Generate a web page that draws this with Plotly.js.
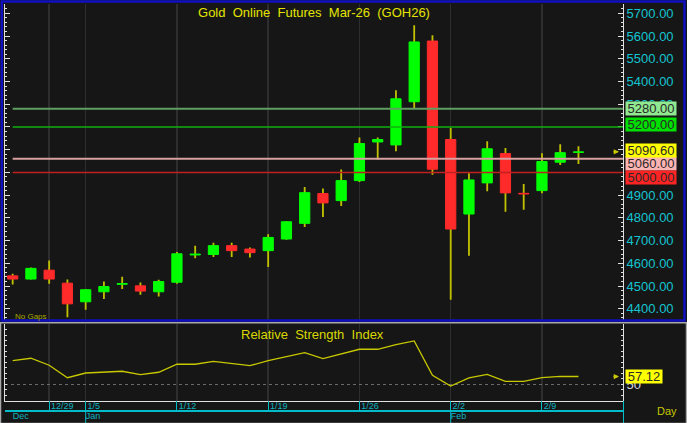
<!DOCTYPE html>
<html><head><meta charset="utf-8">
<script src="https://cdn.plot.ly/plotly-3.0.1.min.js"></script>
<style>html,body{margin:0;padding:0;background:#161616;overflow:hidden}#chart{width:687px;height:423px}</style>
</head><body><div id="chart"></div>
<script>
// ---- data ----
const dates = ['12/24','12/26','12/29','12/30','1/5','1/6','1/7','1/8','1/9','1/12','1/13','1/14','1/15','1/16',
  '1/19','1/20','1/21','1/22','1/23','1/26','1/27','1/28','1/29','1/30','2/2','2/3','2/4','2/5','2/6','2/9','2/10','2/11'];
const open  = [4545,4531,4570,4513,4431,4475,4508,4501,4475,4517,4637,4639,4678,4663,4656,4707,4776,4907,4876,4964,
  5134,5121,5311,5578,5145,4817,4954,5083,4908,4920,5045,5088];
const high  = [4554,4582,4613,4529,4486,4520,4541,4516,4528,4650,4678,4691,4691,4670,4728,4785,4936,4929,5013,5154,
  5154,5362,5647,5603,5196,4996,5137,5108,4949,5084,5124,5115];
const low   = [4507,4529,4510,4363,4396,4443,4487,4462,4454,4510,4623,4628,4628,4626,4584,4704,4760,4804,4852,4958,
  5057,5093,5284,4990,4440,4634,4917,4827,4836,4908,5033,5037];
const close = [4531,4578,4531,4422,4484,4498,4511,4478,4520,4642,4641,4678,4656,4647,4714,4783,4911,4866,4964,5127,
  5145,5324,5574,5014,4751,4967,5104,4910,4905,5048,5087,5090.60];
const rsi   = [71.6,73.8,67.4,56.0,60.3,61.0,61.9,58.8,61.0,68.3,68.3,71.0,68.8,67.0,71.6,75.0,78.9,73.4,78.0,82.0,
  82.0,86.2,89.6,58.2,48.4,55.8,59.1,52.7,52.7,56.0,57.3,57.12];
const weekStarts = ['12/29','1/5','1/12','1/19','1/26','2/2','2/9'];
const monthLabels = ['Dec','Jan','Feb'];
const monthFirstDays = ['12/24','1/5','2/2'];
const priceTicks = [4400,4500,4600,4700,4800,4900,5000,5100,5200,5300,5400,5500,5600,5700];
const priceTicksHidden = [5000,5100,5200];   // covered by the level boxes in the reference
const levels = [5280, 5200, 5060, 5000];
const levelLineColors = ['#5f9f5f','#10b010','#d8a0a0','#c02020'];
const levelBoxColors = ['#90e890','#00e000','#ffb4b4','#ff2424'];
const levelShift = [0, 2, -5, -5];
const titleText = 'Gold\u00a0 Online\u00a0 Futures\u00a0 Mar-26\u00a0 (GOH26)';

// ---- build ----
const FONT = '"Liberation Sans", Arial, sans-serif';
const W = 687, H = 423;
const px = v => v / W, py = v => 1 - v / H;
const idx = dates.map((d, i) => i);
const weekIdx = weekStarts.map(d => dates.indexOf(d));
const monthIdx = monthFirstDays.map(d => dates.indexOf(d));
const xRange = [-0.42, 33.44];
const xDom = [px(5), px(623)];
const up = close.map((c, i) => c >= open[i]);
const bodyCol = up.map(u => u ? '#00ff00' : '#ff2a2a');
const priceRange = [4353, 5741];
const last = close[close.length - 1];
const lastRsi = rsi[rsi.length - 1];
const GRID = '#2e2e2e';
const CYAN = '#00bcc8';

const traces = [
  {type:'bar', x: idx, base: low, y: high.map((h,i)=>h-low[i]), width: 0.1,
   marker:{color:'#c0c000', line:{width:0}}, xaxis:'x', yaxis:'y', hoverinfo:'skip'},
  {type:'bar', x: idx, base: open.map((o,i)=>Math.min(o,close[i])), y: open.map((o,i)=>Math.abs(close[i]-o)), width: 0.56,
   marker:{color: bodyCol, line:{color: bodyCol, width: 1}}, xaxis:'x', yaxis:'y', hoverinfo:'skip'},
  {type:'scatter', mode:'lines', x: idx, y: rsi, xaxis:'x2', yaxis:'y3',
   line:{color:'#c8c800', width:1.3}, hoverinfo:'skip'},
  // invisible carriers so the date strips exist as subplots
  {type:'scatter', mode:'none', x: weekIdx, y: weekIdx.map(() => 0.5), xaxis:'x3', yaxis:'y4', hoverinfo:'skip'},
  {type:'scatter', mode:'none', x: monthIdx, y: monthIdx.map(() => 0.5), xaxis:'x4', yaxis:'y5', hoverinfo:'skip'}
];

const shapes = [];
levels.forEach((lv, i) => shapes.push({type:'line', xref:'x', yref:'y', x0: idx[0], x1: xRange[1], y0: lv, y1: lv,
  line:{color: levelLineColors[i], width: (i===0||i===2)?2:1.5}, layer:'above'}));
monthIdx.slice(1).forEach(m => shapes.push({type:'line', xref:'x4', yref:'paper', x0:m, x1:m, y0:0, y1:py(410),
  line:{color:CYAN, width:1}}));
shapes.push({type:'rect', xref:'paper', yref:'paper', x0:px(0.5), x1:px(686.5), y0:py(423.5), y1:py(322.8),
  line:{color:'#a8a8a8', width:1.5}});
shapes.push({type:'rect', xref:'paper', yref:'paper', x0:px(1.8), x1:px(684.5), y0:py(320.6), y1:py(1.6),
  line:{color:'#1010c0', width:2.5}});

const annotations = [];
levels.forEach((lv, i) => annotations.push({xref:'paper', yref:'y', x: px(625), y: lv, xanchor:'left', yanchor:'middle',
  yshift: levelShift[i], text: lv.toFixed(2), showarrow:false, bgcolor: levelBoxColors[i], borderpad:0, width:50, height:13,
  font:{family:FONT, size:13, color:'#2a2a2a'}}));
annotations.push({xref:'paper', yref:'y', x: px(625), y: last, xanchor:'left', yanchor:'middle', yshift:1,
  text: last.toFixed(2), showarrow:false, bgcolor:'#ffff00', borderpad:0, width:50, height:13,
  font:{family:FONT, size:13, color:'#2a2a2a'}});
annotations.push({xref:'paper', yref:'y3', x: px(625), y: lastRsi, xanchor:'left', yanchor:'middle',
  text: lastRsi.toFixed(2), showarrow:false, bgcolor:'#ffff00', borderpad:0, width:36, height:13,
  font:{family:FONT, size:13, color:'#2a2a2a'}});
annotations.push({xref:'paper', yref:'y', x: px(619), y: last, ax:-7, ay:0, text:'', showarrow:true,
  arrowhead:2, arrowsize:0.7, arrowwidth:1.5, arrowcolor:'#c8c800'});
annotations.push({xref:'paper', yref:'y3', x: px(619), y: lastRsi, ax:-7, ay:0, text:'', showarrow:true,
  arrowhead:2, arrowsize:0.7, arrowwidth:1.5, arrowcolor:'#c8c800'});
annotations.push({xref:'paper', yref:'paper', x: px(13), y: py(316), xanchor:'left', yanchor:'middle',
  text:'No Gaps', showarrow:false, font:{family:FONT, size:8, color:'#a8a800'}});
annotations.push({xref:'paper', yref:'paper', x: px(312), y: py(334), xanchor:'center', yanchor:'middle',
  text:'Relative\u00a0 Strength\u00a0 Index', showarrow:false, font:{family:FONT, size:13, color:'#d8d800'}});
annotations.push({xref:'paper', yref:'paper', x: px(667), y: py(411), xanchor:'center', yanchor:'middle',
  text:'Day', showarrow:false, font:{family:FONT, size:11, color:'#c8c800'}});

const layout = {
  width: W, height: H, margin:{l:0, r:0, t:0, b:0},
  paper_bgcolor:'#161616', plot_bgcolor:'#161616', showlegend:false, barmode:'overlay',
  font:{family:FONT},
  title:{text: titleText, x: px(314), xanchor:'center', y: py(12), yanchor:'middle',
    font:{family:FONT, size:13, color:'#e4e400'}},
  xaxis:{domain:xDom, range:xRange, anchor:'y', tickmode:'array', tickvals:weekIdx, showticklabels:false, ticks:'',
    showgrid:true, gridcolor:GRID, gridwidth:1.5, zeroline:false, showline:false, fixedrange:true},
  yaxis:{domain:[py(319.5), py(4)], range:priceRange, anchor:'x', side:'right', tickmode:'array', tickvals:priceTicks,
    ticktext: priceTicks.map(t => priceTicksHidden.includes(t) ? '' : t.toFixed(2)),
    ticks:'inside', ticklen:5, tickcolor:'#e0e0e0', showline:true, linecolor:'#e0e0e0', linewidth:1,
    mirror:'ticks', showgrid:false, zeroline:false, tickfont:{family:FONT, size:13, color:'#14c4d0'},
    minor:{tickmode:'linear', tick0:0, dtick:20, ticks:'inside', ticklen:2, tickcolor:'#e0e0e0', showgrid:false},
    fixedrange:true},
  yaxis2:{overlaying:'y', anchor:'x', side:'left', range:priceRange, tickmode:'linear', tick0:0, dtick:200,
    showgrid:true, gridcolor:GRID, gridwidth:1.5, showticklabels:false, ticks:'', showline:false, zeroline:false},
  xaxis2:{domain:xDom, range:xRange, anchor:'y3', tickmode:'array', tickvals:weekIdx, showticklabels:false, ticks:'',
    showgrid:true, gridcolor:GRID, gridwidth:1.5, zeroline:false, showline:true, linecolor:'#e0e0e0', linewidth:1.5},
  yaxis3:{domain:[py(400.7), py(324)], range:[35,105.1], anchor:'x2', side:'right', tickmode:'array', tickvals:[50],
    ticktext:['50'], ticks:'inside', ticklen:2, tickcolor:'#e0e0e0', showline:true, linecolor:'#e0e0e0', mirror:'ticks',
    showgrid:true, griddash:'dot', gridcolor:'#6a6a6a', zeroline:false, tickfont:{family:FONT, size:13, color:'#d8d8e4'},
    minor:{tickmode:'linear', tick0:0, dtick:5, ticks:'inside', ticklen:2, tickcolor:'#e0e0e0', showgrid:false}},
  xaxis3:{domain:xDom, range:xRange, anchor:'y4', tickmode:'array', tickvals:weekIdx, ticktext:weekStarts,
    ticklabelposition:'inside right', ticklabeloverflow:'allow', ticklabelstandoff:-5, ticklabelshift:1,
    ticks:'', showgrid:true, gridcolor:CYAN, gridwidth:1,
    showline:true, linecolor:CYAN, linewidth:1.5, zeroline:false, tickfont:{family:FONT, size:9, color:'#10b4c0'}},
  yaxis4:{domain:[py(410), py(401)], range:[0,1], anchor:'x3', side:'right', showgrid:false, showticklabels:false,
    ticks:'', showline:true, linecolor:CYAN, zeroline:false},
  xaxis4:{domain:xDom, range:xRange, anchor:'y5', tickmode:'array', tickvals:monthIdx, ticktext:monthLabels,
    ticklabelposition:'inside right', ticklabeloverflow:'allow', ticklabelstandoff:-4,
    ticks:'', showgrid:false, showline:false, zeroline:false,
    tickfont:{family:FONT, size:9, color:'#10b4c0'}},
  yaxis5:{domain:[0, py(410)], range:[0,1], anchor:'x4', side:'right', showgrid:false, showticklabels:false,
    ticks:'', showline:true, linecolor:CYAN, zeroline:false},
  shapes: shapes, annotations: annotations
};
Plotly.newPlot('chart', traces, layout, {staticPlot:true, displayModeBar:false});
</script></body></html>
